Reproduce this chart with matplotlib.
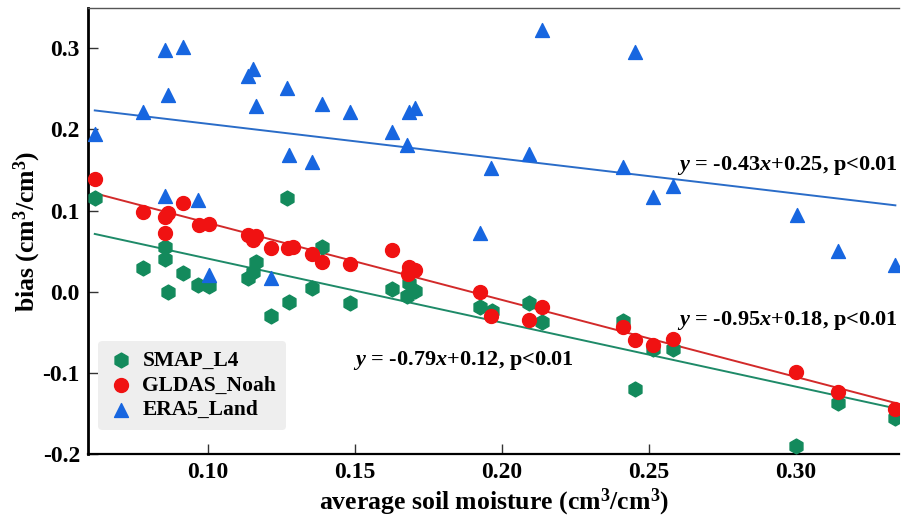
"""
Scatter of product bias against average soil moisture with linear fits.
"""

import numpy as np
import matplotlib
matplotlib.use("Agg")
import matplotlib.pyplot as plt

# values
smap_x = [0.0617, 0.127, 0.0855, 0.0855, 0.078, 0.0917, 0.0867, 0.0967, 0.1004,
          0.1165, 0.1155, 0.1138, 0.1216, 0.1277, 0.139, 0.1354, 0.1484, 0.1627,
          0.1685, 0.1705, 0.1678, 0.1926, 0.1967, 0.2092, 0.2137, 0.2412, 0.2453,
          0.2514, 0.2582, 0.300, 0.3143, 0.3337]
smap_y = [0.115, 0.115, 0.055, 0.041, 0.029, 0.023, 0.000, 0.008, 0.007,
          0.037, 0.024, 0.017, -0.030, -0.012, 0.055, 0.005, -0.014, 0.003,
          0.011, 0.001, -0.005, -0.019, -0.024, -0.014, -0.037, -0.036, -0.120,
          -0.070, -0.071, -0.190, -0.137, -0.156]

gldas_x = [0.0617, 0.078, 0.0855, 0.0865, 0.0917, 0.0855, 0.097, 0.1004, 0.1138,
           0.1155, 0.1165, 0.1216, 0.1272, 0.129, 0.1354, 0.139, 0.1484, 0.1627,
           0.1685, 0.1705, 0.168, 0.1926, 0.1963, 0.2092, 0.2137, 0.2412, 0.2453,
           0.2514, 0.2582, 0.300, 0.3143, 0.3337]
gldas_y = [0.139, 0.098, 0.092, 0.097, 0.109, 0.072, 0.082, 0.084, 0.070,
           0.064, 0.069, 0.054, 0.054, 0.055, 0.047, 0.037, 0.034, 0.052,
           0.030, 0.027, 0.022, 0.000, -0.030, -0.035, -0.019, -0.043, -0.060,
           -0.066, -0.058, -0.099, -0.124, -0.145]

era5_x = [0.0617, 0.078, 0.0855, 0.0865, 0.0855, 0.0917, 0.0967, 0.1004, 0.1138,
          0.1155, 0.1165, 0.1216, 0.127, 0.1277, 0.139, 0.1354, 0.1484, 0.1685,
          0.1705, 0.1627, 0.1678, 0.1963, 0.1926, 0.2137, 0.2453, 0.2092, 0.2412,
          0.2582, 0.2514, 0.3003, 0.3143, 0.3337]
era5_y = [0.195, 0.221, 0.298, 0.242, 0.118, 0.302, 0.113, 0.021, 0.266,
          0.274, 0.229, 0.017, 0.251, 0.169, 0.231, 0.160, 0.222, 0.222,
          0.226, 0.197, 0.181, 0.152, 0.072, 0.322, 0.295, 0.170, 0.154,
          0.130, 0.117, 0.094, 0.050, 0.033]

# fitted lines shown on the chart
slopes = [-0.79, -0.95, -0.43]
intercepts = [0.12, 0.18, 0.25]
labels = ["SMAP_L4", "GLDAS_Noah", "ERA5_Land"]

plt.rcParams['font.family'] = 'Liberation Serif'
plt.rcParams['font.weight'] = 'bold'
plt.rcParams['mathtext.fontset'] = 'custom'
plt.rcParams['mathtext.rm'] = 'Liberation Serif:bold'
plt.rcParams['mathtext.it'] = 'Liberation Serif:bold:italic'
plt.rcParams['mathtext.bf'] = 'Liberation Serif:bold'

fig = plt.figure(figsize=(9.01, 5.16), dpi=100)
ax = fig.add_axes([0.098, 0.12, 0.9, 0.865])

# scatter points
ax.scatter(smap_x, smap_y, marker='h', s=115, color='#138a5c', label=labels[0], zorder=3)
ax.scatter(gldas_x, gldas_y, marker='o', s=100, color='#f01212', label=labels[1], zorder=4)
ax.scatter(era5_x, era5_y, marker='^', s=100, color='#1766e0', label=labels[2], zorder=3)

# regression lines
line_colors = ['#1e8a68', '#d22a2a', '#2a6cc8']
for xs, k, b, c in zip([smap_x, gldas_x, era5_x], slopes, intercepts, line_colors):
    xx = np.array([min(xs), max(xs)])
    ax.plot(xx, k * xx + b, color=c, lw=1.4, zorder=2)

# equation labels
ax.text(0.3345, 0.155, r'$y$ = -0.43$x$+0.25, p<0.01', fontsize=16, fontweight='bold',
        ha='right', va='center')
ax.text(0.3345, -0.036, r'$y$ = -0.95$x$+0.18, p<0.01', fontsize=16, fontweight='bold',
        ha='right', va='center')
ax.text(0.1494, -0.085, r'$y$ = -0.79$x$+0.12, p<0.01', fontsize=16, fontweight='bold',
        ha='left', va='center')

ax.set_xlim(0.0595, 0.335)
ax.set_ylim(-0.2, 0.35)
ax.set_xticks([0.10, 0.15, 0.20, 0.25, 0.30])
ax.set_xticklabels(['0.10', '0.15', '0.20', '0.25', '0.30'])
ax.set_yticks([-0.2, -0.1, 0.0, 0.1, 0.2, 0.3])
ax.set_yticklabels(['-0.2', '-0.1', '0.0', '0.1', '0.2', '0.3'])
ax.tick_params(direction='in', length=7, width=1, labelsize=17, color='#333333', pad=6)

ax.spines['left'].set_linewidth(2)
ax.spines['bottom'].set_linewidth(1.6)
ax.spines['top'].set_linewidth(1)
ax.spines['top'].set_color('#555555')
ax.spines['right'].set_visible(False)

ax.set_xlabel('average soil moisture (cm$^3$/cm$^3$)', fontsize=18.5, fontweight='bold', labelpad=2)
ax.set_ylabel('bias (cm$^3$/cm$^3$)', fontsize=18.5, fontweight='bold', labelpad=0)

leg = ax.legend(loc='lower left', bbox_to_anchor=(-0.001, 0.03), fontsize=15.5, frameon=True,
                handletextpad=0.4, borderpad=0.45, labelspacing=0.22, handlelength=1.2)
leg.get_frame().set_facecolor('#eeeeee')
leg.get_frame().set_edgecolor('none')
leg.get_frame().set_alpha(1)

fig.savefig('out.png', dpi=100)
